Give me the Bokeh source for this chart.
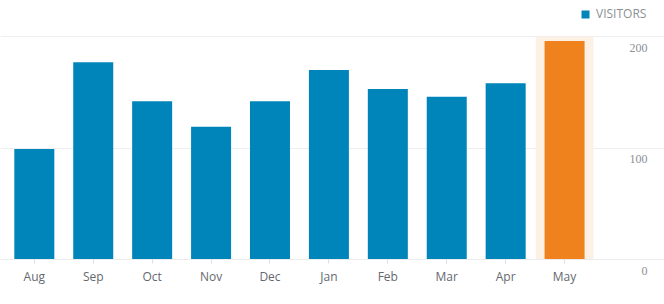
import numpy as np
from bokeh.plotting import figure
from bokeh.models import (ColumnDataSource, Range1d, FixedTicker, LabelSet,
                          Legend, LegendItem)
from bokeh.embed import file_html
from bokeh.resources import INLINE

# ---- data ----
months = ["Aug", "Sep", "Oct", "Nov", "Dec", "Jan", "Feb", "Mar", "Apr", "May"]
visitors = [99, 177, 142, 119, 142, 170, 153, 146, 158, 196]
highlight = "May"
y_ticks = [0, 100, 200]
y_tick_labels = ["0", "100", "200"]
series_name = "VISITORS"

BLUE = "#0085ba"
ORANGE = "#f0821e"
BAND = "#fdf0e4"
FONT = "Open Sans"

x = np.arange(len(months))
colors = [ORANGE if m == highlight else BLUE for m in months]
src = ColumnDataSource(dict(x=x, month=months, visitors=visitors, color=colors))

hi_idx = months.index(highlight)
band_src = ColumnDataSource(dict(x=[hi_idx], top=[max(y_ticks)]))

p = figure(width=664, height=304, output_backend="svg", toolbar_location=None,
           x_range=Range1d(-0.574, 10.696), y_range=Range1d(-40.36, 232.3),
           min_border_left=0, min_border_right=0, min_border_top=0,
           min_border_bottom=0, outline_line_color=None,
           background_fill_color="white", border_fill_color="white")

# highlight band behind current month
p.vbar(x="x", top="top", bottom=0, width=0.98, source=band_src,
       fill_color=BAND, line_color=None)

bars = p.vbar(x="x", top="visitors", bottom=0, width=0.679, source=src,
              fill_color="color", line_color=None)

# axes
p.yaxis.visible = False
xa = p.xaxis[0]
xa.fixed_location = 0
xa.ticker = FixedTicker(ticks=list(x))
xa.major_label_overrides = {int(i): m for i, m in zip(x, months)}
xa.axis_line_color = "#ececec"
xa.major_tick_line_color = "#dcdcde"
xa.major_tick_in = 0
xa.major_tick_out = 4
xa.minor_tick_line_color = None
xa.major_label_standoff = 4
xa.major_label_text_font = FONT
xa.major_label_text_font_size = "12px"
xa.major_label_text_color = "#646970"

p.xgrid.visible = False
p.ygrid.ticker = FixedTicker(ticks=y_ticks)
p.ygrid.grid_line_color = "#eeeeee"

# y tick labels (right side, below grid lines)
lab_src = ColumnDataSource(dict(y=y_ticks, text=y_tick_labels))
p.add_layout(LabelSet(x=647, y="y", text="text", source=lab_src,
                      x_units="screen", y_offset=-11,
                      text_align="right", text_baseline="middle",
                      text_font=FONT, text_font_size="12px",
                      text_color="#8c8f94"))

legend = Legend(items=[LegendItem(label=series_name, renderers=[bars], index=0)],
                location="top_right", orientation="horizontal",
                border_line_color=None, background_fill_alpha=0,
                padding=0, margin=12, spacing=0,
                glyph_width=10, glyph_height=10, label_height=10,
                label_standoff=6,
                label_text_font=FONT, label_text_font_size="12px",
                label_text_color="#8c8f94")
legend.margin = 12
p.add_layout(legend)
p.legend.location = (664 - 18 - 66, 304 - 12 - 10)

open("out.html", "w").write(file_html(p, INLINE))
